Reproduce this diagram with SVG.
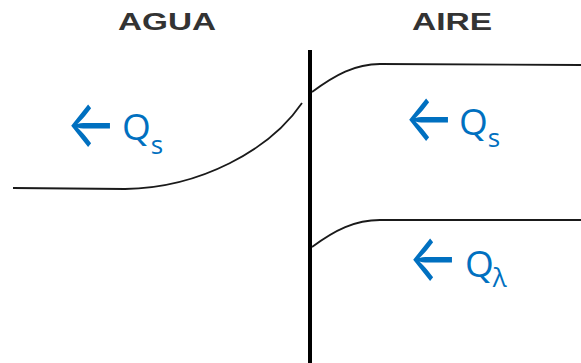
<svg xmlns="http://www.w3.org/2000/svg" width="581" height="363" viewBox="0 0 581 363">
<style>
.hdr{font-family:"Liberation Sans",Arial,sans-serif;font-weight:bold;font-size:24px;fill:#333}
.lbl{font-family:"Open Sans","Noto Sans",sans-serif;font-size:37px;fill:#0070C0}
.sub{font-size:26px}
.arr{font-family:Inter,Lato,sans-serif;font-size:53px;fill:#0070C0}
.crv{fill:none;stroke:#1a1a1a;stroke-width:1.8}
</style>
<rect width="581" height="363" fill="#fff"/>
<g id="wall"><line x1="310" y1="50" x2="310" y2="363" stroke="#000" stroke-width="4"/></g>
<g id="headers">
<text class="hdr" x="118" y="30" textLength="98" lengthAdjust="spacingAndGlyphs">AGUA</text>
<text class="hdr" x="412" y="30" textLength="80" lengthAdjust="spacingAndGlyphs">AIRE</text>
</g>
<g id="connectors">
<path class="crv" d="M13,188 L125,189 C200,188 270,150 302,103"/>
<path class="crv" d="M312,92 C335,75 355,64 380,64 L581,65"/>
<path class="crv" d="M312,247 C335,230 355,220 380,220 L581,220"/>
</g>
<g id="label-water">
<text class="arr" transform="translate(66,147) scale(1,1.25)">←</text>
<text class="lbl" x="122" y="140">Q<tspan class="sub" dx="0" dy="14">s</tspan></text>
</g>
<g id="label-air-s">
<text class="arr" transform="translate(404,141) scale(1,1.25)">←</text>
<text class="lbl" x="459" y="135">Q<tspan class="sub" dx="0" dy="12">s</tspan></text>
</g>
<g id="label-air-l">
<text class="arr" transform="translate(408,281) scale(1,1.25)">←</text>
<text class="lbl" x="465" y="277">Q<tspan class="sub" dx="-1" dy="10">λ</tspan></text>
</g>
</svg>
